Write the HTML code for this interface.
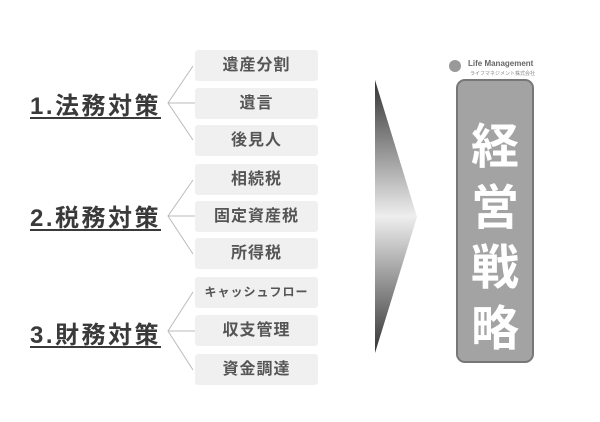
<!DOCTYPE html>
<html><head><meta charset="utf-8"><style>
body{margin:0;width:600px;height:422px;background:#fff;position:relative;overflow:hidden;font-family:"Liberation Sans","Noto Sans CJK JP",sans-serif;}
.b{position:absolute;left:195px;width:123px;height:31px;background:#f0f0f0;border-radius:3px;color:#555;font-size:16px;font-weight:bold;text-align:center;line-height:31px;letter-spacing:1px;}
.h{position:absolute;left:30px;font-size:24px;font-weight:bold;color:#3a3a3a;letter-spacing:2.5px;text-decoration:underline;text-decoration-thickness:2px;text-underline-offset:3px;}
</style></head><body>
<div class="h" style="top:86px">1.法務対策</div>
<div class="h" style="top:198px">2.税務対策</div>
<div class="h" style="top:315px">3.財務対策</div>
<div class="b" style="top:50px">遺産分割</div>
<div class="b" style="top:88px">遺言</div>
<div class="b" style="top:125px">後見人</div>
<div class="b" style="top:164px">相続税</div>
<div class="b" style="top:201px">固定資産税</div>
<div class="b" style="top:238px">所得税</div>
<div class="b" style="top:277px;font-size:12px">キャッシュフロー</div>
<div class="b" style="top:315px">収支管理</div>
<div class="b" style="top:354px">資金調達</div>
<svg width="600" height="422" style="position:absolute;left:0;top:0">
<defs><linearGradient id="g" x1="0" y1="0" x2="0" y2="1">
<stop offset="0" stop-color="#333"/><stop offset="0.5" stop-color="#eee"/><stop offset="1" stop-color="#333"/></linearGradient></defs>
<g stroke="#bbb" fill="none" stroke-width="1">
<path d="M193 66 L168 103 L193 140 M168 103 L195 103"/>
<path d="M193 180 L168 216 L193 254 M168 216 L195 216"/>
<path d="M193 292 L168 331 L193 370 M168 331 L195 331"/>
</g>
<polygon points="375,80 417,217 375,353" fill="url(#g)"/>
<rect x="457" y="80" width="76" height="282" rx="8" fill="#a3a3a3" stroke="#777" stroke-width="2"/>
<circle cx="455" cy="66" r="6" fill="#999"/>
<text x="468" y="66" font-size="8" font-weight="bold" fill="#666" font-family="Liberation Sans,sans-serif">Life Management</text>
<text x="470" y="75" font-size="5" fill="#888" font-family="Noto Sans CJK JP,sans-serif">ライフマネジメント株式会社</text>
<g fill="#fff" font-size="48" font-weight="bold" text-anchor="middle" font-family="Noto Sans CJK JP,sans-serif">
<text x="495" y="163">経</text><text x="495" y="224">営</text><text x="495" y="284">戦</text><text x="495" y="345">略</text>
</g>
</svg>
</body></html>
